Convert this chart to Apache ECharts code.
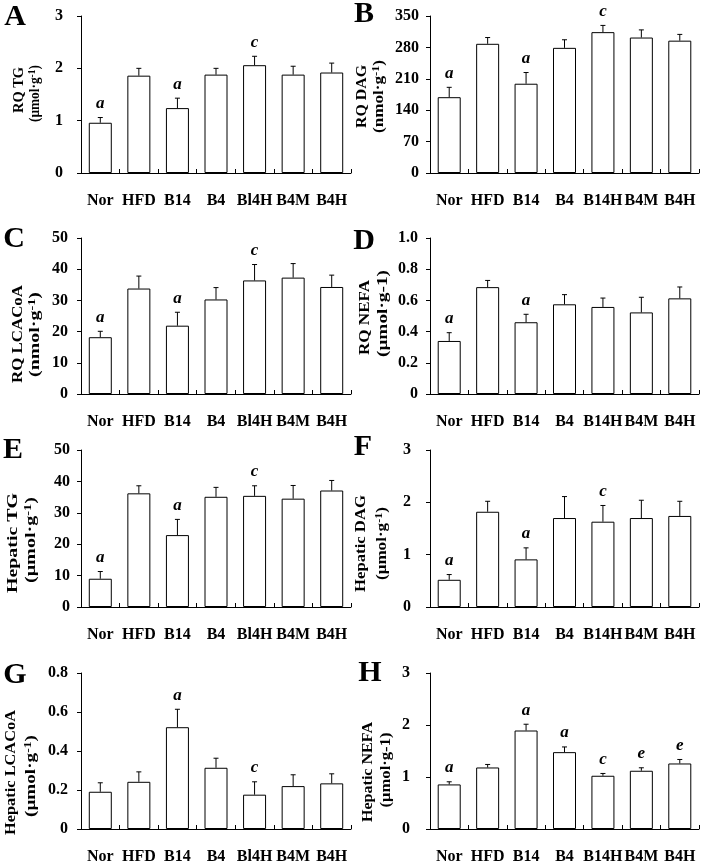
<!DOCTYPE html>
<html>
<head>
<meta charset="utf-8">
<script src="https://cdn.jsdelivr.net/npm/echarts@6/dist/echarts.min.js"></script>
<style>
html,body{margin:0;padding:0;background:#fff;}
#chart{width:709px;height:865px;}
</style>
</head>
<body>
<div id="chart"></div>
<script>
// ---- data ----
const catsLeft  = ['Nor','HFD','B14','B4','Bl4H','B4M','B4H'];
const catsRight = ['Nor','HFD','B14','B4','B14H','B4M','B4H'];

const meanA = [0.96, 1.86, 1.24, 1.88, 2.06, 1.88, 1.92];
const errA  = [0.10, 0.14, 0.19, 0.12, 0.17, 0.16, 0.18];
const sigA  = ['a','','a','','c','',''];

const meanB = [169, 288, 199, 279, 314, 302, 295];
const errB  = [22, 14, 25, 18, 15, 17, 14];
const sigB  = ['a','','a','','c','',''];

const meanC = [18.2, 33.8, 21.9, 30.3, 36.4, 37.3, 34.3];
const errC  = [1.9, 4.0, 4.3, 3.8, 5.1, 4.5, 3.8];
const sigC  = ['a','','a','','c','',''];

const meanD = [0.34, 0.685, 0.46, 0.575, 0.558, 0.523, 0.613];
const errD  = [0.053, 0.043, 0.051, 0.062, 0.057, 0.097, 0.073];
const sigD  = ['a','','a','','','',''];

const meanE = [9.0, 36.2, 22.9, 35.1, 35.4, 34.5, 37.1];
const errE  = [2.3, 2.4, 5.0, 3.0, 3.2, 4.2, 3.2];
const sigE  = ['a','','a','','c','',''];

const meanF = [0.52, 1.82, 0.91, 1.70, 1.63, 1.70, 1.74];
const errF  = [0.10, 0.20, 0.22, 0.41, 0.31, 0.34, 0.28];
const sigF  = ['a','','a','','c','',''];

const meanG = [0.191, 0.242, 0.522, 0.314, 0.176, 0.220, 0.234];
const errG  = [0.046, 0.051, 0.092, 0.049, 0.066, 0.058, 0.049];
const sigG  = ['','','a','','c','',''];

const meanH = [0.857, 1.183, 1.894, 1.478, 1.024, 1.120, 1.260];
const errH  = [0.051, 0.058, 0.121, 0.100, 0.044, 0.057, 0.077];
const sigH  = ['a','','a','a','c','e','e'];

const ticksA = {max:3, interval:1};
const ticksB = {max:350, interval:70};
const ticksC = {max:50, interval:10};
const ticksD = {max:1.0, interval:0.2};
const ticksE = {max:50, interval:10};
const ticksF = {max:3, interval:1};
const ticksG = {max:0.8, interval:0.2};
const ticksH = {max:3, interval:1};

// ---- layout / style ----
const FONT = '"Liberation Serif","Times New Roman",serif';
const colX = [81, 430];
const colW = [270, 269];
const rowTop = [16, 238, 450, 673];
const rowH = [157, 156, 157, 156];

const panels = [
  {L:'A', cats:catsLeft,  mean:meanA, err:errA, sig:sigA, t:ticksA, col:0,row:0, lm:18, dec:false,
   n1:'RQ TG', n2:'(μmol·g', sup:true, t1:[19,90,46], t2:[35,93.5,57], lx:15, ly:17.5},
  {L:'B', cats:catsRight, mean:meanB, err:errB, sig:sigB, t:ticksB, col:1,row:0, lm:11, dec:false,
   n1:'RQ DAG', n2:'(nmol·g', sup:true, t1:[362.5,96.5,63], t2:[379.5,96.5,73], lx:364, ly:14},
  {L:'C', cats:catsLeft,  mean:meanC, err:errC, sig:sigC, t:ticksC, col:0,row:1, lm:13, dec:false,
   n1:'RQ LCACoA', n2:'(nmol·g', sup:true, t1:[18.5,334,98], t2:[35.5,334.5,85], lx:14, ly:239},
  {L:'D', cats:catsRight, mean:meanD, err:errD, sig:sigD, t:ticksD, col:1,row:1, lm:12, dec:true,
   n1:'RQ NEFA', n2:'(μmol·g-1)', sup:false, t1:[365.5,317.5,75], t2:[383.5,313.5,87], lx:364, ly:241},
  {L:'E', cats:catsLeft,  mean:meanE, err:errE, sig:sigE, t:ticksE, col:0,row:2, lm:11, dec:false,
   n1:'Hepatic TG', n2:'(μmol·g', sup:true, t1:[13,543,100], t2:[31.5,540,86], lx:13, ly:450},
  {L:'F', cats:catsRight, mean:meanF, err:errF, sig:sigF, t:ticksF, col:1,row:2, lm:19, dec:false,
   n1:'Hepatic DAG', n2:'(μmol·g', sup:true, t1:[361.5,543.5,97], t2:[382,543.5,73], lx:363, ly:447.5},
  {L:'G', cats:catsLeft,  mean:meanG, err:errG, sig:sigG, t:ticksG, col:0,row:3, lm:13, dec:true,
   n1:'Hepatic LCACoA', n2:'(μmol·g', sup:true, t1:[11,772.5,125], t2:[31.5,776,82], lx:15, ly:675},
  {L:'H', cats:catsRight, mean:meanH, err:errH, sig:sigH, t:ticksH, col:1,row:3, lm:20, dec:false,
   n1:'Hepatic NEFA', n2:'(μmol·g-1)', sup:false, t1:[368.5,772,100], t2:[386.5,770,75], lx:370, ly:673}
];

const measureCtx = document.createElement('canvas').getContext('2d');
function textW(str, size) {
  measureCtx.font = 'bold ' + size + 'px ' + FONT;
  return measureCtx.measureText(str).width;
}
const F1 = 15, F2 = 14, FS = 10;

const grids = [], xAxes = [], yAxes = [], series = [], graphics = [];

panels.forEach((p, i) => {
  grids.push({left: colX[p.col], top: rowTop[p.row], width: colW[p.col], height: rowH[p.row], containLabel: false});
  xAxes.push({
    type: 'category', gridIndex: i, data: p.cats, boundaryGap: true,
    axisLine: {show: true, lineStyle: {color: '#000', width: 1}},
    axisTick: {show: true, inside: true, length: 4, alignWithLabel: false, lineStyle: {color: '#000'}},
    axisLabel: {interval: 0, margin: 20, color: '#000', fontFamily: FONT, fontWeight: 'bold', fontSize: 16},
    splitLine: {show: false}
  });
  yAxes.push({
    type: 'value', gridIndex: i, min: 0, max: p.t.max, interval: p.t.interval,
    axisLine: {show: true, lineStyle: {color: '#000', width: 1}},
    axisTick: {show: true, inside: false, length: 4, lineStyle: {color: '#000'}},
    axisLabel: {margin: p.lm, color: '#000', fontFamily: FONT, fontWeight: 'bold', fontSize: 16,
      formatter: p.dec ? (v => v === 0 ? '0' : v.toFixed(1)) : (v => String(Math.round(v)))},
    splitLine: {show: false}
  });
  series.push({
    type: 'bar', xAxisIndex: i, yAxisIndex: i, data: p.mean, barWidth: 23,
    itemStyle: {color: '#fff', borderColor: '#000', borderWidth: 1},
    silent: true, z: 2
  });
  const sig = p.sig;
  series.push({
    type: 'custom', xAxisIndex: i, yAxisIndex: i, z: 3, silent: true,
    data: p.mean.map((m, k) => [k, m, m + p.err[k]]),
    encode: {x: 0, y: [1, 2]},
    renderItem: function (params, api) {
      const k = api.value(0);
      const base = api.coord([k, api.value(1)]);
      const top = api.coord([k, api.value(2)]);
      const children = [
        {type: 'line', shape: {x1: base[0], y1: base[1], x2: top[0], y2: top[1]}, style: {stroke: '#000', lineWidth: 1}},
        {type: 'line', shape: {x1: top[0] - 2.5, y1: top[1], x2: top[0] + 2.5, y2: top[1]}, style: {stroke: '#000', lineWidth: 1}}
      ];
      const s = sig[params.dataIndex];
      if (s) {
        children.push({type: 'text', style: {text: s, x: top[0], y: top[1] - 14, align: 'center', verticalAlign: 'middle',
          font: 'italic bold 17px ' + FONT, fill: '#000'}});
      }
      return {type: 'group', children: children};
    }
  });
  // panel letter
  graphics.push({type: 'text', x: p.lx, y: p.ly,
    style: {text: p.L, font: 'bold 30px ' + FONT, fill: '#000', align: 'center', verticalAlign: 'middle'}});
  // y-axis title, line 1
  const w1 = textW(p.n1, F1);
  graphics.push({type: 'text', x: p.t1[0], y: p.t1[1], rotation: Math.PI / 2, scaleX: p.t1[2] / w1,
    style: {text: p.n1, font: 'bold ' + F1 + 'px ' + FONT, fill: '#000', align: 'center', verticalAlign: 'middle'}});
  // y-axis title, line 2
  let w2, txt2;
  if (p.sup) {
    w2 = textW(p.n2, F2) + textW('-1', FS) + textW(')', F2);
    txt2 = '{s|' + p.n2 + '}{u|-1}{s|)}';
  } else {
    w2 = textW(p.n2, F2);
    txt2 = '{s|' + p.n2 + '}';
  }
  graphics.push({type: 'text', x: p.t2[0], y: p.t2[1], rotation: Math.PI / 2, scaleX: p.t2[2] / w2,
    style: {text: txt2, align: 'center', verticalAlign: 'middle', fill: '#000',
      rich: {
        s: {fontFamily: FONT, fontWeight: 'bold', fontSize: F2, lineHeight: 16, fill: '#000'},
        u: {fontFamily: FONT, fontWeight: 'bold', fontSize: FS, lineHeight: 16, verticalAlign: 'top', fill: '#000'}
      }}});
});

const chart = echarts.init(document.getElementById('chart'), null, {renderer: 'canvas'});
chart.setOption({
  animation: false,
  backgroundColor: '#fff',
  grid: grids, xAxis: xAxes, yAxis: yAxes, series: series, graphic: graphics
});
</script>
</body>
</html>
